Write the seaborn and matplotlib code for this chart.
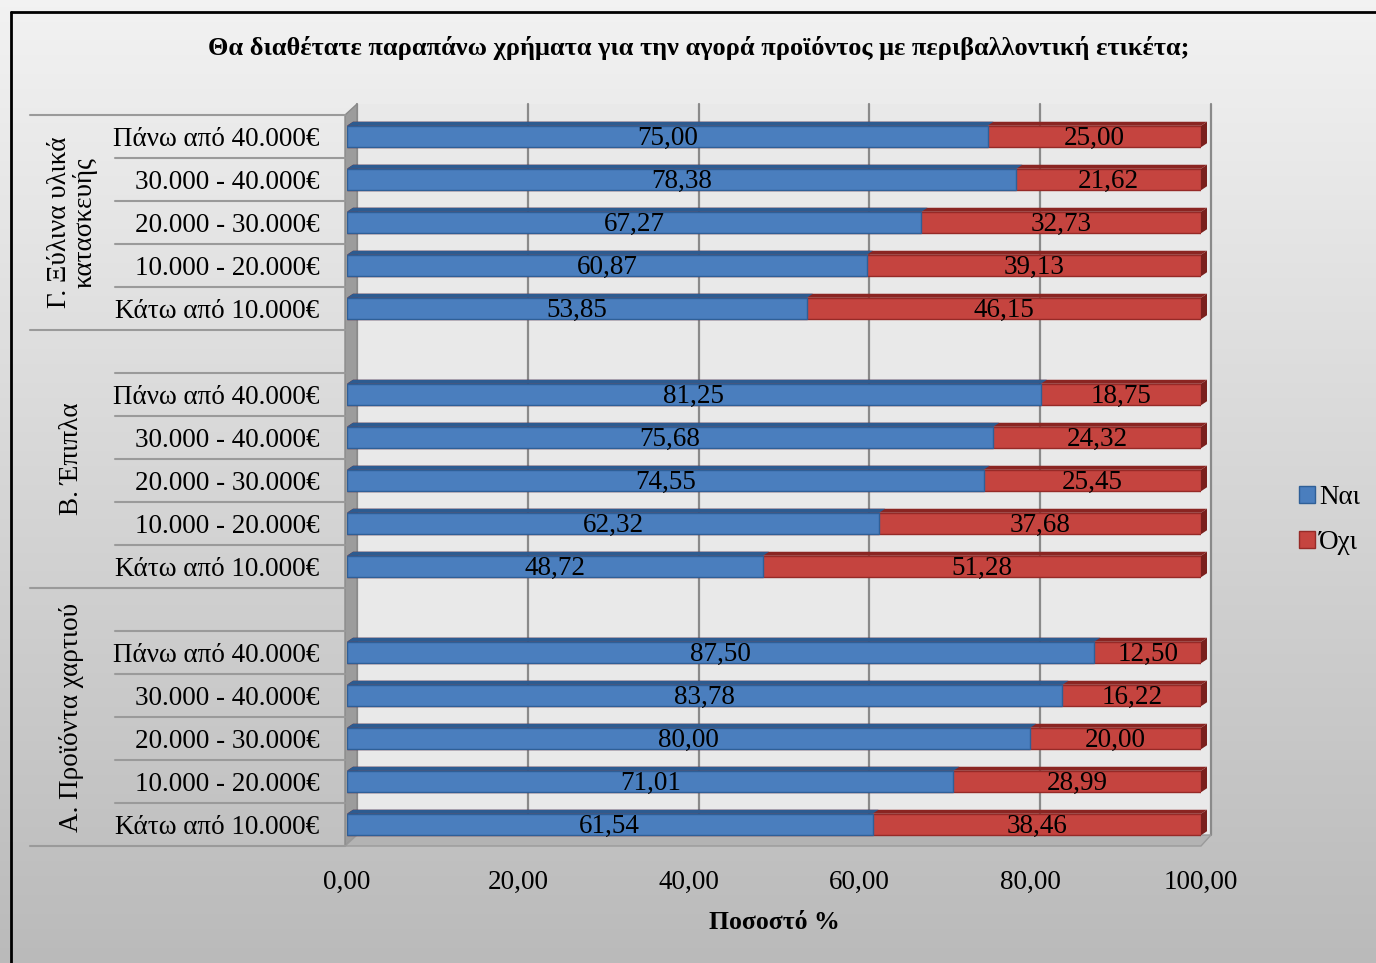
import numpy as np
import pandas as pd
import seaborn as sns
import matplotlib.pyplot as plt
from matplotlib.patches import Polygon, Rectangle, Patch
from matplotlib.lines import Line2D
from matplotlib.transforms import ScaledTranslation, blended_transform_factory

# ---- data ----
title = "Θα διαθέτατε παραπάνω χρήματα για την αγορά προϊόντος με περιβαλλοντική ετικέτα;"
income = ["Πάνω από 40.000€", "30.000 - 40.000€", "20.000 - 30.000€",
          "10.000 - 20.000€", "Κάτω από 10.000€"]
groups = ["Γ. Ξύλινα υλικά\nκατασκευής", "Β. Έπιπλα", "Α. Προϊόντα χαρτιού"]

yes_wood = [75.00, 78.38, 67.27, 60.87, 53.85]
no_wood = [25.00, 21.62, 32.73, 39.13, 46.15]
yes_furn = [81.25, 75.68, 74.55, 62.32, 48.72]
no_furn = [18.75, 24.32, 25.45, 37.68, 51.28]
yes_paper = [87.50, 83.78, 80.00, 71.01, 61.54]
no_paper = [12.50, 16.22, 20.00, 28.99, 38.46]

xticks = [0, 20, 40, 60, 80, 100]

# ---- build one table, with an empty slot in front of groups B and A ----
rows = []
for gi, (yv, nv) in enumerate([(yes_wood, no_wood), (yes_furn, no_furn), (yes_paper, no_paper)]):
    if gi > 0:
        rows.append(dict(key=f"gap{gi}", label="", yes=np.nan, no=np.nan))
    for lab, y, n in zip(income, yv, nv):
        rows.append(dict(key=f"{gi}|{lab}", label=lab, yes=y, no=n))
df = pd.DataFrame(rows)
df["total"] = df["yes"] + df["no"]
order = list(df["key"])
nrows = len(order)

W, H = 1376, 963
sns.set_theme(style="white")
plt.rcParams["font.family"] = ["Liberation Serif", "DejaVu Serif"]
plt.rcParams["text.color"] = "black"
plt.rcParams["xtick.color"] = "black"
plt.rcParams["ytick.color"] = "black"
plt.rcParams["axes.labelcolor"] = "black"

FS = 19.5

fig = plt.figure(figsize=(W / 100, H / 100), dpi=100)


def fx(px):
    return px / W


def fy(py):
    return 1 - py / H


# background gradient
bg = fig.add_axes([0, 0, 1, 1], zorder=-10)
grad = np.linspace(0.95, 0.73, 256).reshape(-1, 1)
bg.imshow(np.dstack([grad] * 3), aspect="auto", extent=[0, 1, 0, 1])
bg.set_axis_off()
bg.add_line(Line2D([fx(11), fx(11)], [fy(12), 0], color="black", lw=2, transform=fig.transFigure))
bg.add_line(Line2D([fx(11), 1], [fy(12), fy(12)], color="black", lw=2, transform=fig.transFigure))

L, R, T, B = 347, 1201, 115, 846
ax = fig.add_axes([fx(L), fy(B), fx(R) - fx(L), fy(T) - fy(B)])
ax.set_facecolor("none")

blue, blue_top, blue_edge = "#4a7ebe", "#2d5b90", "#2f5f97"
red, red_top, red_edge = "#c5443f", "#8a2522", "#962a27"

sns.barplot(data=df, x="total", y="key", order=order, color=red, orient="h",
            width=0.5, saturation=1, errorbar=None, edgecolor=red_edge,
            linewidth=1, ax=ax, zorder=3)
sns.barplot(data=df, x="yes", y="key", order=order, color=blue, orient="h",
            width=0.5, saturation=1, errorbar=None, edgecolor=blue_edge,
            linewidth=1, ax=ax, zorder=4)
ax.set_xlim(0, 100)
ax.set_ylim(nrows - 0.5, -0.5)

# 3D look: back wall, side wall, floor, gridlines
off = ScaledTranslation(0.10, 0.11, fig.dpi_scale_trans)
ax.add_patch(Rectangle((0, 0), 1, 1, transform=ax.transAxes + off,
                       facecolor="#e9e9e9", edgecolor="none", zorder=0, clip_on=False))
gx = blended_transform_factory(ax.transData, ax.transAxes)
for v in xticks:
    ax.plot([v, v], [0, 1], color="#8a8a8a", lw=1.6, transform=gx + off,
            zorder=1, clip_on=False)
ax.add_patch(Polygon([[fx(L - 2), fy(B)], [fx(L - 2), fy(T)], [fx(L + 10), fy(T - 11)],
                      [fx(L + 10), fy(B - 11)]], closed=True, transform=fig.transFigure,
                     facecolor="#9c9c9c", edgecolor="#8a8a8a", zorder=1, clip_on=False))
ax.add_patch(Polygon([[fx(L - 2), fy(B)], [fx(L + 10), fy(B - 11)], [fx(R + 10), fy(B - 11)],
                      [fx(R), fy(B)]], closed=True, transform=fig.transFigure,
                     facecolor="#b3b3b3", edgecolor="#9a9a9a", zorder=1, clip_on=False))

# top / right faces of the bars
inv = ax.transData.inverted()
d_x, d_y = 6, 4


def shift(x, y):
    px, py = ax.transData.transform((x, y))
    return inv.transform((px + d_x, py + d_y))


for patch, top, zo in [(p, red_top, 3) for p in ax.containers[0]] + \
                      [(p, blue_top, 4) for p in ax.containers[1]]:
    w = patch.get_width()
    if not np.isfinite(w) or w == 0:
        continue
    x0, y0 = patch.get_x(), patch.get_y()
    yt = y0  # upper edge (axis inverted)
    yb = y0 + patch.get_height()
    ax.add_patch(Polygon([[x0, yt], [x0 + w, yt], shift(x0 + w, yt), shift(x0, yt)],
                         facecolor=top, edgecolor="none", zorder=zo - 0.5, clip_on=False))
    if top == red_top:
        ax.add_patch(Polygon([[x0 + w, yt], shift(x0 + w, yt), shift(x0 + w, yb), [x0 + w, yb]],
                             facecolor="#7a1f1c", edgecolor="none", zorder=zo - 0.5,
                             clip_on=False))

# value labels
for i, r in df.iterrows():
    if np.isnan(r["yes"]):
        continue
    ax.text(r["yes"] / 2, i + 0.05, f"{r['yes']:.2f}".replace(".", ","), ha="center",
            va="center", fontsize=FS, zorder=6)
    ax.text(r["yes"] + r["no"] / 2, i + 0.05, f"{r['no']:.2f}".replace(".", ","),
            ha="center", va="center", fontsize=FS, zorder=6)

# axes
for s in ax.spines.values():
    s.set_visible(False)
ax.set_xticks(xticks)
ax.set_xticklabels([f"{v:.2f}".replace(".", ",") for v in xticks], fontsize=FS)
ax.tick_params(axis="x", length=7, width=1.2, color="#999999", pad=10)
ax.set_yticks(range(nrows))
ax.set_yticklabels(df["label"], fontsize=FS)
ax.tick_params(axis="y", length=0, pad=20)
ax.set_xlabel("Ποσοστό %", fontsize=18.5, fontweight="bold", labelpad=12)
ax.set_ylabel("")

# category separator lines and group labels
sep = blended_transform_factory(fig.transFigure, ax.transAxes)
group_bounds = [0, 5, 11, 17]
for k in range(nrows + 1):
    x_start = 30 if k in group_bounds else 115
    if k not in group_bounds and k in (5, 11):
        continue
    ax.add_line(Line2D([fx(x_start), fx(L - 2)], [1 - k / nrows, 1 - k / nrows],
                       color="#9a9a9a", lw=1.5, transform=sep, clip_on=False))
for gi, g in enumerate(groups):
    mid = 1 - (group_bounds[gi] + group_bounds[gi + 1]) / 2 / nrows
    ax.text(fx(72), mid, g, rotation=90, ha="center", va="center", fontsize=FS,
            transform=sep, linespacing=1.05)

fig.text(fx(699), fy(48), title, ha="center", va="center", fontsize=19, fontweight="bold")

handles = [Patch(facecolor=blue, edgecolor=blue_edge), Patch(facecolor=red, edgecolor=red_edge)]
fig.legend(handles, ["Ναι", "Όχι"], loc="center left", bbox_to_anchor=(fx(1299), fy(520)),
           frameon=False, fontsize=FS, handlelength=0.6, handleheight=0.6,
           handletextpad=0.15, labelspacing=0.75, borderpad=0, borderaxespad=0)

fig.savefig("out.png", dpi=100)
